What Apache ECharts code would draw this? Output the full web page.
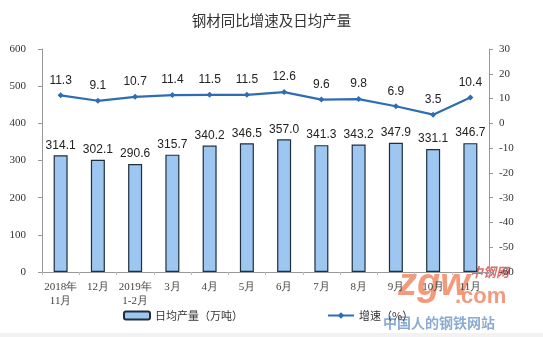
<!DOCTYPE html>
<html><head><meta charset="utf-8">
<script src="https://cdn.jsdelivr.net/npm/echarts@6/dist/echarts.min.js"></script>
<style>html,body{margin:0;padding:0;background:#fff}#c{width:543px;height:337px}</style>
</head><body><div id="c"></div>
<script>
const categories = ['2018年\n11月','12月','2019年\n1-2月','3月','4月','5月','6月','7月','8月','9月','10月','11月'];
const dailyOutput = [314.1,302.1,290.6,315.7,340.2,346.5,357.0,341.3,343.2,347.9,331.1,346.7];
const growthRate = [11.3,9.1,10.7,11.4,11.5,11.5,12.6,9.6,9.8,6.9,3.5,10.4];
const leftTicks = [0,600,100];
const rightTicks = [-60,30,10];

const chart = echarts.init(document.getElementById('c'));
chart.setOption({
  animation:false,
  backgroundColor:'#fff',
  title:{text:'钢材同比增速及日均产量',left:'center',top:8,
    textStyle:{fontFamily:'Noto Sans CJK SC',fontSize:14.5,fontWeight:'normal',color:'#333'}},
  grid:{left:42,right:54,top:49,bottom:65},
  legend:{left:118,top:305,itemGap:84,itemWidth:26,itemHeight:8,
    textStyle:{fontFamily:'Noto Sans CJK SC',fontSize:11,color:'#333'},
    data:[{name:'日均产量（万吨）',icon:'roundRect'},{name:'增速（%）'}]},
  xAxis:{type:'category',data:categories,
    axisLine:{lineStyle:{color:'#999'}},
    axisTick:{show:true,length:3,lineStyle:{color:'#bbb'}},
    axisLabel:{fontFamily:'Liberation Serif',fontSize:11,color:'#444',margin:8,lineHeight:14,interval:0}},
  yAxis:[
    {type:'value',min:leftTicks[0],max:leftTicks[1],interval:leftTicks[2],
     axisLine:{show:true,lineStyle:{color:'#999'}},
     axisTick:{show:true,inside:false,length:4,lineStyle:{color:'#999'}},
     splitLine:{show:false},
     axisLabel:{fontFamily:'Liberation Serif',fontSize:11,color:'#333',margin:16}},
    {type:'value',min:rightTicks[0],max:rightTicks[1],interval:rightTicks[2],
     axisLine:{show:true,lineStyle:{color:'#999'}},
     axisTick:{show:true,length:4,lineStyle:{color:'#999'}},
     splitLine:{show:false},
     axisLabel:{fontFamily:'Liberation Serif',fontSize:11,color:'#333',margin:10}}
  ],
  series:[
    {name:'日均产量（万吨）',type:'bar',data:dailyOutput,barWidth:14,
     itemStyle:{color:'#9DC7F0',borderColor:'#1F2F3F',borderWidth:1.2},
     label:{show:true,position:'top',distance:4,fontFamily:'Liberation Sans',fontSize:12,color:'#222',
       formatter:p=>p.value.toFixed(1)}},
    {name:'增速（%）',type:'line',yAxisIndex:1,data:growthRate,
     symbol:'diamond',symbolSize:6,
     lineStyle:{color:'#2E6DB4',width:2.2},itemStyle:{color:'#2E6DB4'},
     label:{show:true,position:'top',distance:6,fontFamily:'Liberation Sans',fontSize:12,color:'#222',
       formatter:p=>p.value.toFixed(1)}}
  ],
  graphic:[
    {type:'rect',left:0,top:333,shape:{width:543,height:4},style:{fill:'#f2f2f2'},silent:true},
    {type:'text',left:398,top:266,style:{text:'zgw',font:'bold italic 38px Liberation Sans',fill:'rgba(240,120,80,0.75)'},silent:true},
    {type:'text',left:455,top:286,style:{text:'.com',font:'bold 22px Liberation Sans',fill:'rgba(240,120,80,0.75)'},silent:true},
    {type:'text',left:470,top:266,style:{text:'中钢网',font:'bold italic 13px Noto Sans CJK SC',fill:'rgba(210,70,70,0.8)'},silent:true},
    {type:'text',left:383,top:316,style:{text:'中国人的钢铁网站',font:'bold 14px Noto Sans CJK SC',fill:'rgba(110,150,200,0.8)'},silent:true}
  ]
});
</script></body></html>
